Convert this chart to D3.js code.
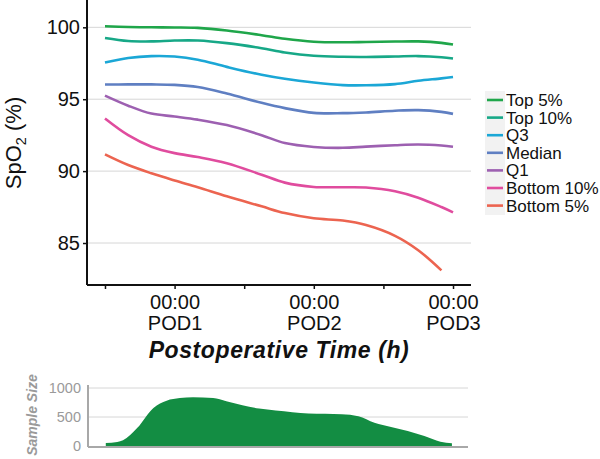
<!DOCTYPE html>
<html><head><meta charset="utf-8">
<script src="https://cdn.jsdelivr.net/npm/d3@7"></script>
<style>body{margin:0;background:#fff}svg{display:block;font-family:"Liberation Sans",Arial,sans-serif}</style>
</head><body><svg id="c" width="600" height="459"></svg>
<script>
const hours = [12,16,20,24,28,33,39,43,48,53,57,62,66,70,72];
const seriesNames = ["Top 5%","Top 10%","Q3","Median","Q1","Bottom 10%","Bottom 5%"];
const colors = ["#1fa64a","#17a887","#1ba7d6","#5f7fc2","#9d60b1","#e04c9e","#ec6450"];
const top5 = [100.07,100.02,100.0,99.99,99.96,99.78,99.45,99.2,99.0,98.96,98.98,99.01,99.02,98.92,98.8];
const top10 = [99.26,99.05,99.02,99.08,99.08,98.9,98.55,98.25,98.02,97.95,97.94,97.97,98.0,97.92,97.83];
const q3 = [97.55,97.87,98.0,97.97,97.75,97.25,96.7,96.42,96.16,95.98,95.97,96.05,96.28,96.45,96.55];
const median = [96.02,96.03,96.03,96.0,95.85,95.4,94.75,94.38,94.05,94.03,94.08,94.2,94.24,94.12,93.98];
const q1 = [95.25,94.55,94.0,93.8,93.58,93.2,92.5,91.95,91.68,91.62,91.7,91.8,91.85,91.78,91.7];
const bottom10 = [93.66,92.5,91.7,91.25,90.98,90.55,89.75,89.2,88.9,88.88,88.86,88.6,88.15,87.5,87.13];
const bottom5 = [91.16,90.42,89.85,89.35,88.88,88.25,87.55,87.08,86.72,86.56,86.25,85.5,84.5,83.1,null];
const seriesValues = [top5,top10,q3,median,q1,bottom10,bottom5];
const yTicks = [85,90,95,100];
const xTickHours = [12,24,36,48,60,72];
const xTickLabels = {24:["00:00","POD1"],48:["00:00","POD2"],72:["00:00","POD3"]};
const sampleHours = [12,14,15,17.5,20.3,22.6,24.9,27.2,30.7,33,35.8,38.7,41.6,44.5,47.3,50.2,53.1,56,58.8,61.7,64.6,67.5,70.3,72.3];
const sampleSize = [50,70,100,314,657,782,828,840,828,771,703,645,611,583,560,554,548,514,400,326,257,171,74,46];
const sampleTicks = [0,500,1000];

const svg = d3.select("#c");
const x = d3.scaleLinear().domain([8.9,75.1]).range([87,471]);
const y = d3.scaleLinear().domain([82.08,101.9]).range([285,0]);

// gridlines
svg.append("g").selectAll("line").data(yTicks).join("line")
  .attr("x1",87).attr("x2",471).attr("y1",d=>y(d)).attr("y2",d=>y(d))
  .attr("stroke","#d6d6d6").attr("stroke-width",1);

// lines
const line = d3.line().defined(d=>d[1]!=null).x(d=>x(d[0])).y(d=>y(d[1])).curve(d3.curveCatmullRom.alpha(0.5));
seriesValues.forEach((vals,i)=>{
  svg.append("path").datum(hours.map((h,j)=>[h,vals[j]]))
    .attr("d",line).attr("fill","none").attr("stroke",colors[i]).attr("stroke-width",2.6).attr("stroke-linecap","butt");
});

// y axis
const yAxis = svg.append("g").attr("transform","translate(87,0)")
  .call(d3.axisLeft(y).tickValues(yTicks).tickSize(4).tickPadding(3));
yAxis.select(".domain").attr("d","M0,0V285").attr("stroke","#111").attr("stroke-width",2);
yAxis.selectAll(".tick line").attr("stroke","#111").attr("stroke-width",1.5);
yAxis.selectAll(".tick text").attr("font-size",20).attr("fill","#111").attr("font-family","Liberation Sans, Arial");

// x axis
const xAxis = svg.append("g").attr("transform","translate(0,285)")
  .call(d3.axisBottom(x).tickValues(xTickHours).tickSize(4).tickFormat(""));
xAxis.select(".domain").attr("d","M87,0H471").attr("stroke","#111").attr("stroke-width",2);
xAxis.selectAll(".tick line").attr("stroke","#111").attr("stroke-width",1.5);
xAxis.selectAll(".tick").each(function(d){
  const lab = xTickLabels[d];
  if(!lab) return;
  const t = d3.select(this).append("text").attr("fill","#111").attr("font-size",20).attr("text-anchor","middle");
  t.append("tspan").attr("x",0).attr("y",24).text(lab[0]);
  t.append("tspan").attr("x",0).attr("y",45).text(lab[1]);
});

// axis titles
svg.append("text").attr("x",279).attr("y",358).attr("text-anchor","middle")
  .attr("font-size",23).attr("font-weight","bold").attr("font-style","italic").attr("fill","#111")
  .attr("letter-spacing",0.6)
  .text("Postoperative Time (h)");
const yt = svg.append("text").attr("transform","translate(21,143) rotate(-90)").attr("text-anchor","middle")
  .attr("font-size",22).attr("fill","#111");
yt.append("tspan").text("SpO");
yt.append("tspan").attr("font-size",14.5).attr("dy",5).text("2");
yt.append("tspan").attr("dy",-5).text(" (%)");

// legend
const lg = svg.append("g").attr("transform","translate(485,91)");
lg.append("rect").attr("x",0).attr("y",0).attr("width",20).attr("height",124).attr("fill","#f2f2f2");
seriesNames.forEach((n,i)=>{
  const cy = 9 + i*17.6;
  lg.append("line").attr("x1",2).attr("x2",18).attr("y1",cy).attr("y2",cy).attr("stroke",colors[i]).attr("stroke-width",2.6);
  lg.append("text").attr("x",21).attr("y",cy+6).attr("font-size",17).attr("fill","#111").text(n);
});

// sample size panel
const ys = d3.scaleLinear().domain([0,1000]).range([446,388]);
const xs = d3.scaleLinear().domain([8.9,75.1]).range([88,468]);
svg.append("g").selectAll("line").data([500,1000]).join("line")
  .attr("x1",88).attr("x2",468).attr("y1",d=>ys(d)).attr("y2",d=>ys(d))
  .attr("stroke","#d6d6d6").attr("stroke-width",1);
const area = d3.area().x((d,i)=>xs(sampleHours[i])).y0(ys(0)).y1(d=>ys(d)).curve(d3.curveMonotoneX);
svg.append("path").datum(sampleSize).attr("d",area).attr("fill","#138d43");
const ysAxis = svg.append("g").attr("transform","translate(88,0)")
  .call(d3.axisLeft(ys).tickValues(sampleTicks).tickSize(0).tickPadding(7).tickFormat(d3.format("d")));
ysAxis.select(".domain").attr("d","M0,385V447").attr("stroke","#a8a8a8").attr("stroke-width",2);
ysAxis.selectAll(".tick text").attr("font-size",14.5).attr("fill","#9a9a9a").attr("font-family","Liberation Sans, Arial");
svg.append("line").attr("x1",88).attr("x2",468).attr("y1",447).attr("y2",447).attr("stroke","#a8a8a8").attr("stroke-width",2);
svg.append("text").attr("transform","translate(37,415) rotate(-90)").attr("text-anchor","middle")
  .attr("font-size",14).attr("font-weight","bold").attr("font-style","italic").attr("fill","#9a9a9a").text("Sample Size");
</script></body></html>
